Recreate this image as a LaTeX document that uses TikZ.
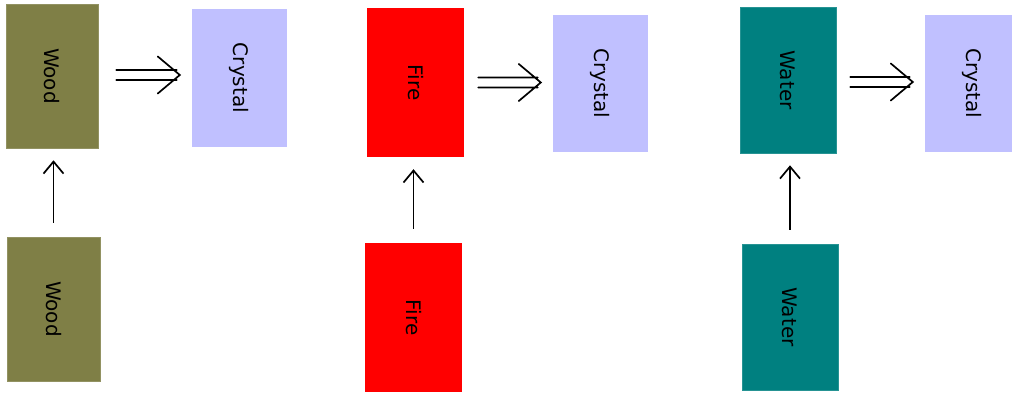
\documentclass[tikz,border=0pt]{standalone}
\usepackage{fontspec}
\setmainfont{DejaVu Sans}
\usetikzlibrary{arrows.meta,calc}
\definecolor{woodc}{RGB}{127,127,70}
\definecolor{firec}{RGB}{255,0,0}
\definecolor{waterc}{RGB}{0,128,128}
\definecolor{crystc}{RGB}{192,192,255}
\tikzset{
  elem/.style={rectangle, inner sep=0pt, font=\fontsize{20}{20}\selectfont, text=black},
  woodbox/.style={elem, fill=woodc, draw=woodc!85!white, line width=0.6pt},
  firebox/.style={elem, fill=firec},
  waterbox/.style={elem, fill=waterc, draw=waterc!85!white, line width=0.6pt},
  crystbox/.style={elem, fill=crystc},
  feed/.style={line width=1.7pt, -{Straight Barb[length=12pt,width=20pt,line width=1.7pt]},
    shorten <=14pt, shorten >=12pt},
  makes/.style={line width=1.7pt, line cap=round, line join=miter,
    to path={
      ($(\tikztostart)+(0,5pt)$) -- ($(\tikztotarget)+(-3pt,5pt)$)
      ($(\tikztostart)+(0,-5pt)$) -- ($(\tikztotarget)+(-3pt,-5pt)$)
      ($(\tikztotarget)+(-22pt,18.5pt)$) -- (\tikztotarget) -- ($(\tikztotarget)+(-22pt,-18.5pt)$)
    }},
}
\newcommand{\vlabel}[1]{\rotatebox{-90}{#1}}
\begin{document}
\begin{tikzpicture}[x=1pt,y=1pt]
\useasboundingbox (0,0) rectangle (1012,393);
\fill[white] (0,0) rectangle (1012,393);

% wood
\node[woodbox, minimum width=92pt, minimum height=144pt] (woodtop) at (52,317) {\vlabel{Wood}};
\node[crystbox, minimum width=95pt, minimum height=138pt] (cryst1) at (239.5,315) {\vlabel{Crystal}};
\node[woodbox, minimum width=93pt, minimum height=144pt] (woodbot) at (53.5,84) {\vlabel{Wood}};

% fire
\node[firebox, minimum width=97pt, minimum height=149pt] (firetop) at (415.5,310.5) {\vlabel{Fire}};
\node[crystbox, minimum width=95pt, minimum height=137pt] (cryst2) at (600.5,309.5) {\vlabel{Crystal}};
\node[firebox, minimum width=97pt, minimum height=149pt] (firebot) at (413.5,75.5) {\vlabel{Fire}};

% water
\node[waterbox, minimum width=96pt, minimum height=146pt] (watertop) at (788,313) {\vlabel{Water}};
\node[crystbox, minimum width=95pt, minimum height=137pt] (cryst3) at (972.5,309.5) {\vlabel{Crystal}};
\node[waterbox, minimum width=96pt, minimum height=146pt] (waterbot) at (790,76) {\vlabel{Water}};

% feeding arrows
\draw[feed] (woodbot.north) -- (woodbot.north |- woodtop.south);
\draw[feed] (firebot.north) -- (firebot.north |- firetop.south);
\draw[feed] (waterbot.north) -- (waterbot.north |- watertop.south);

% transformation arrows
\coordinate (w1) at ([xshift=18pt,yshift=1pt]woodtop.east);
\coordinate (f1) at ([xshift=14pt]firetop.east);
\coordinate (a1) at ([xshift=14pt,yshift=-2pt]watertop.east);
\draw[makes] (w1) to ([xshift=-12pt]cryst1.west |- w1);
\draw[makes] (f1) to ([xshift=-12pt]cryst2.west |- f1);
\draw[makes] (a1) to ([xshift=-12pt]cryst3.west |- a1);
\end{tikzpicture}
\end{document}
